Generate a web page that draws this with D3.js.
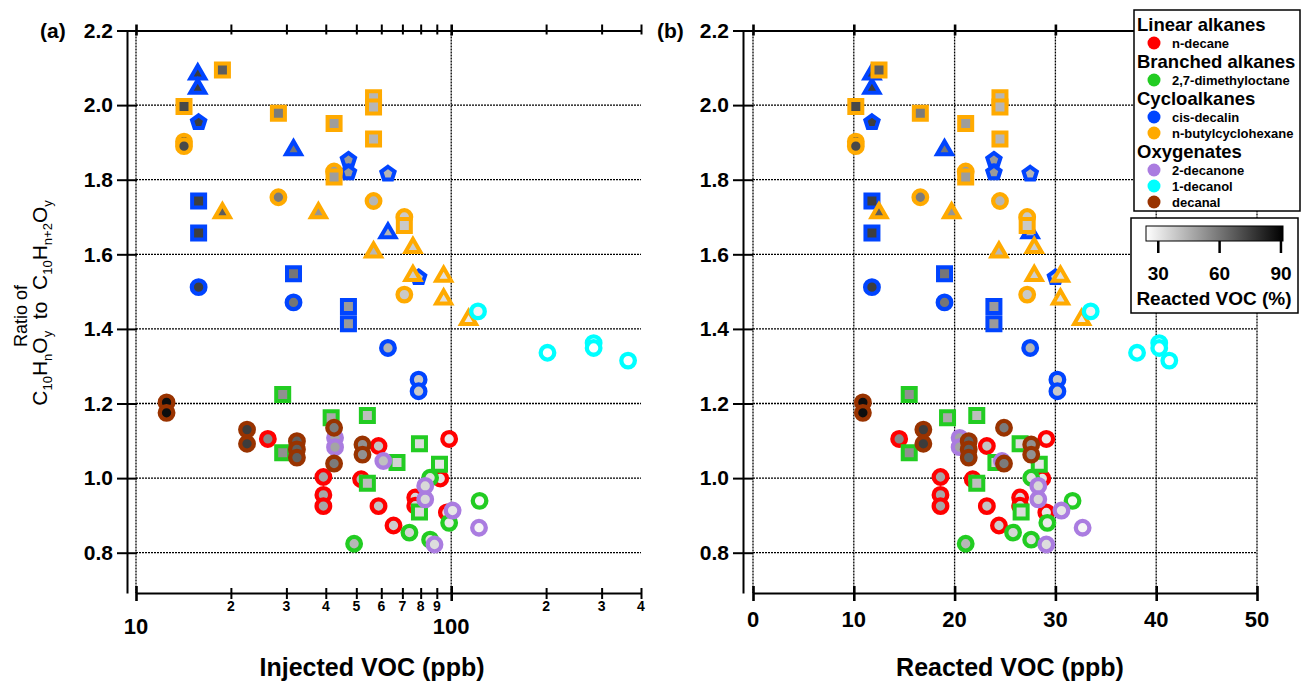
<!DOCTYPE html>
<html>
<head>
<meta charset="utf-8">
<script src="https://cdn.jsdelivr.net/npm/d3@7"></script>
<style>
  body { margin: 0; background: #fff; }
  text { font-family: 'Liberation Sans', Arial, sans-serif; }
</style>
</head>
<body>
<script>
// [injected ppb, reacted ppb, ratio]
var decaneCircles = [
  [26.2, 14.5, 1.105], [39.3, 18.6, 1.003], [39.3, 18.6, 0.955], [39.3, 18.6, 0.925],
  [51.8, 21.8, 0.997], [58.8, 23.2, 1.086], [58.8, 23.2, 0.925], [65.6, 24.4, 0.873],
  [76.9, 26.5, 0.948], [76.9, 26.5, 0.926], [92.3, 28.7, 0.999], [96.9, 29.1, 0.908],
  [98.5, 29.1, 1.105]
]
var dmoCircles = [
  [49.2, 21.1, 0.824], [73.7, 25.8, 0.854], [85.7, 27.6, 1.001], [85.7, 27.6, 0.835],
  [98.5, 29.2, 0.880], [123, 31.7, 0.939]
]
var dmoSquares = [
  [29.2, 15.5, 1.224], [29.2, 15.5, 1.068], [41.6, 19.3, 1.162], [54.2, 22.2, 1.168],
  [54.2, 22.2, 0.986], [67.3, 24.1, 1.042], [79.3, 26.5, 1.092], [79.3, 26.6, 0.909],
  [91.8, 28.4, 1.037]
]
var decalinCircles = [
  [15.8, 11.8, 1.512], [31.6, 19.0, 1.471], [63.0, 27.5, 1.349], [78.8, 30.2, 1.264],
  [78.8, 30.2, 1.233]
]
var decalinSquares = [
  [15.8, 11.8, 1.743], [15.8, 11.8, 1.657], [31.6, 19.0, 1.548], [47.2, 23.9, 1.460],
  [47.2, 23.9, 1.414]
]
var decalinTriangles = [
  [15.7, 11.8, 2.083], [15.7, 11.8, 2.045], [31.6, 19.0, 1.880], [63.0, 27.5, 1.657]
]
var decalinPentagons = [
  [15.8, 11.8, 1.954], [47.2, 23.9, 1.853], [47.2, 23.9, 1.819], [63.0, 27.5, 1.816],
  [78.8, 30.0, 1.538]
]
var bchCircles = [
  [14.2, 10.2, 1.902], [14.2, 10.2, 1.890], [42.5, 21.1, 1.822], [28.3, 16.6, 1.753],
  [56.7, 24.5, 1.743], [71.0, 27.2, 1.700], [71.0, 27.2, 1.492]
]
var bchSquares = [
  [18.8, 12.5, 2.094], [14.2, 10.2, 1.996], [28.3, 16.6, 1.978], [42.5, 21.1, 1.951],
  [56.7, 24.5, 2.020], [56.7, 24.5, 1.995], [56.7, 24.5, 1.909], [42.5, 21.1, 1.807],
  [71.0, 27.2, 1.677]
]
var bchTriangles = [
  [18.8, 12.5, 1.711], [37.9, 19.7, 1.711], [75.6, 27.9, 1.618], [56.7, 24.4, 1.606],
  [75.6, 27.9, 1.543], [94.6, 30.5, 1.541], [94.6, 30.5, 1.480], [113.5, 32.6, 1.425]
]
var decanoneCircles = [
  [42.8, 20.5, 1.108], [42.8, 20.5, 1.083], [60.9, 24.7, 1.046], [82.7, 28.3, 0.979],
  [82.7, 28.3, 0.943], [88.5, 29.1, 0.822], [101, 30.6, 0.913], [122.5, 32.7, 0.867]
]
var decanolCircles = [
  [121.6, 33.5, 1.447], [202, 38.1, 1.336], [283, 40.3, 1.362], [283, 40.3, 1.349],
  [364, 41.3, 1.315]
]
var decanalCircles = [
  [12.5, 10.9, 1.203], [12.5, 10.9, 1.175], [22.5, 16.9, 1.130], [22.5, 16.9, 1.092],
  [32.4, 21.4, 1.099], [32.4, 21.4, 1.077], [32.4, 21.4, 1.055], [42.5, 24.9, 1.135],
  [42.5, 24.9, 1.039], [52.3, 27.6, 1.090], [52.3, 27.6, 1.063]
]

var groups = ['Linear alkanes', 'Branched alkanes', 'Cycloalkanes', 'Oxygenates']
var compounds = ['n-decane', '2,7-dimethyloctane', 'cis-decalin', 'n-butylcyclohexane', '2-decanone', '1-decanol', 'decanal']
var compoundGroup = [0, 1, 2, 2, 3, 3, 3]
var colors = ['#ff0000', '#22cc22', '#0044ff', '#ffaa00', '#aa7ce0', '#00ffff', '#993300']

var yTicks = [0.8, 1.0, 1.2, 1.4, 1.6, 1.8, 2.0, 2.2]
var injTicks = [10, 20, 30, 40, 50, 60, 70, 80, 90, 100, 200, 300, 400]
var reactTicks = [0, 10, 20, 30, 40, 50]
var pctTicks = [30, 60, 90]

var series = [
  { data: decaneCircles, c: 0, shape: 'circle' },
  { data: dmoCircles, c: 1, shape: 'circle' },
  { data: dmoSquares, c: 1, shape: 'square' },
  { data: decalinCircles, c: 2, shape: 'circle' },
  { data: decalinSquares, c: 2, shape: 'square' },
  { data: decalinTriangles, c: 2, shape: 'triangle' },
  { data: decalinPentagons, c: 2, shape: 'pentagon' },
  { data: bchCircles, c: 3, shape: 'circle' },
  { data: bchSquares, c: 3, shape: 'square' },
  { data: bchTriangles, c: 3, shape: 'triangle' },
  { data: decanoneCircles, c: 4, shape: 'circle' },
  { data: decanolCircles, c: 5, shape: 'circle' },
  { data: decanalCircles, c: 6, shape: 'circle' }
]

var width = 1301
var height = 681
var font = "'Liberation Sans', Arial, sans-serif"

var svg = d3
  .select('body')
  .append('svg')
  .attr('width', width)
  .attr('height', height)

var y = d3.scaleLinear().domain([0.692, 2.2]).range([593, 30.5])
var xInj = d3.scaleLog().domain([10, 400]).range([136, 641])
var xReact = d3.scaleLinear().domain([0, 50]).range([753, 1257])
var shade = d3.scaleLinear().domain([24, 91]).range(['#ffffff', '#000000']).clamp(true)

// regular pentagon, point up
var symbolPentagon = {
  draw: function(ctx, size) {
    var r = Math.sqrt(size / 2.3776)
    for (var i = 0; i < 5; i++) {
      var a = -Math.PI / 2 + i * 2 * Math.PI / 5
      if (i === 0) ctx.moveTo(r * Math.cos(a), r * Math.sin(a))
      else ctx.lineTo(r * Math.cos(a), r * Math.sin(a))
    }
    ctx.closePath()
  }
}
var symbols = {
  circle: d3.symbol().type(d3.symbolCircle).size(145),
  square: d3.symbol().type(d3.symbolSquare).size(169),
  triangle: d3.symbol().type(d3.symbolTriangle).size(97),
  pentagon: d3.symbol().type(symbolPentagon).size(116)
}

function grid(x, xVals) {
  var g = svg.append('g')
    .attr('stroke', '#000')
    .attr('stroke-width', 1.3)
    .attr('stroke-dasharray', '2,1')
  g.selectAll('line.h')
    .data(yTicks.filter(v => v < 2.1))
    .join('line')
    .attr('x1', x.range()[0])
    .attr('x2', x.range()[1])
    .attr('y1', d => y(d))
    .attr('y2', d => y(d))
  g.selectAll('line.v')
    .data(xVals)
    .join('line')
    .attr('x1', d => x(d))
    .attr('x2', d => x(d))
    .attr('y1', y.range()[1])
    .attr('y2', y.range()[0])
}

function yAxis(xPos) {
  var g = svg.append('g')
    .attr('transform', 'translate(' + xPos + ',0)')
    .call(d3.axisLeft(y).tickValues(yTicks).tickSize(10).tickPadding(4).tickSizeOuter(0).tickFormat(d3.format('.1f')))
  g.attr('font-family', font)
  g.select('.domain').attr('stroke-width', 2)
  g.selectAll('.tick line').attr('x1', 10).attr('stroke-width', 2)
  g.selectAll('.tick text').attr('font-size', 21).attr('font-weight', 'bold').attr('fill', '#000')
}

function xAxes(x, vals, major) {
  var bottom = svg.append('g')
    .attr('transform', 'translate(0,593)')
    .call(d3.axisBottom(x).tickValues(vals).tickSize(7).tickSizeOuter(0).tickFormat(''))
  var top = svg.append('g')
    .attr('transform', 'translate(0,30.5)')
    .call(d3.axisTop(x).tickValues(vals).tickSize(6).tickSizeOuter(0).tickFormat(''))
  bottom.selectAll('.tick line').attr('y1', d => major(d) ? -7 : -5).attr('y2', d => major(d) ? 8 : 6)
  top.selectAll('.tick line').attr('y1', d => major(d) ? 5 : 4)
  ;[bottom, top].forEach(g => {
    g.select('.domain').attr('stroke-width', 2)
    g.selectAll('.tick line').attr('stroke-width', d => major(d) ? 2.6 : 2)
  })
  return bottom
}

function isDecade(d) {
  return d === 10 || d === 100
}

// panel (a)
grid(xInj, [10, 100])
yAxis(127)
xAxes(xInj, injTicks, isDecade)
svg.append('g')
  .selectAll('text')
  .data(injTicks)
  .join('text')
  .attr('x', d => xInj(d))
  .attr('y', d => isDecade(d) ? 634 : 611)
  .attr('text-anchor', 'middle')
  .attr('font-weight', 'bold')
  .attr('font-size', d => isDecade(d) ? 22 : 14)
  .text(d => isDecade(d) ? d : String(d).charAt(0))

// panel (b)
grid(xReact, reactTicks)
yAxis(743)
xAxes(xReact, reactTicks, () => true)
svg.append('g')
  .selectAll('text')
  .data(reactTicks)
  .join('text')
  .attr('x', d => xReact(d))
  .attr('y', 627)
  .attr('text-anchor', 'middle')
  .attr('font-weight', 'bold')
  .attr('font-size', 22)
  .text(d => d)

// markers
series.forEach(s => {
  ;[[xInj, 0], [xReact, 1]].forEach(([x, k]) => {
    svg.append('g')
      .selectAll('path')
      .data(s.data)
      .join('path')
      .attr('d', symbols[s.shape])
      .attr('transform', d => 'translate(' + x(d[k]) + ',' + y(d[2]) + ')')
      .attr('fill', d => shade(100 * d[1] / d[0]))
      .attr('stroke', colors[s.c])
      .attr('stroke-width', s.shape === 'circle' ? 4.3 : 4)
  })
})

// labels and titles
svg.append('text').attr('x', 40).attr('y', 38).attr('font-size', 21).attr('font-weight', 'bold').text('(a)')
svg.append('text').attr('x', 657).attr('y', 38).attr('font-size', 21).attr('font-weight', 'bold').text('(b)')

svg.append('text')
  .attr('x', 372).attr('y', 676)
  .attr('text-anchor', 'middle').attr('font-size', 25).attr('font-weight', 'bold')
  .text('Injected VOC (ppb)')
svg.append('text')
  .attr('x', 1010).attr('y', 676)
  .attr('text-anchor', 'middle').attr('font-size', 25).attr('font-weight', 'bold')
  .text('Reacted VOC (ppb)')

svg.append('text')
  .attr('transform', 'translate(27,316) rotate(-90)')
  .attr('text-anchor', 'middle').attr('font-size', 18)
  .text('Ratio of')

var formula = svg.append('text')
  .attr('transform', 'translate(47,303) rotate(-90)')
  .attr('text-anchor', 'middle').attr('font-size', 21)
  .style('white-space', 'pre')
var parts = [['C', 0], ['10', 1], ['H', 0], ['n', 1], ['O', 0], ['y', 1], ['  to  ', 0],
  ['C', 0], ['10', 1], ['H', 0], ['n+2', 1], ['O', 0], ['y', 1]]
var prevSub = 0
parts.forEach(p => {
  formula.append('tspan')
    .attr('font-size', p[1] ? 13 : 21)
    .attr('dy', p[1] - prevSub ? (p[1] ? 5 : -5) : 0)
    .text(p[0])
  prevSub = p[1]
})

// legend
var legend = svg.append('g')
legend.append('rect')
  .attr('x', 1134).attr('y', 10).attr('width', 166).attr('height', 201)
  .attr('fill', '#fff').attr('stroke', '#000').attr('stroke-width', 1.5)
var rows = []
groups.forEach((g, gi) => {
  rows.push({ header: true, label: g })
  compounds.forEach((c, ci) => {
    if (compoundGroup[ci] === gi) rows.push({ header: false, label: c, color: colors[ci] })
  })
})
var ly = 25
rows.forEach((r, i) => {
  if (i > 0) ly += r.header ? 19 : (rows[i - 1].header ? 18 : 16)
  if (r.header) {
    legend.append('text')
      .attr('x', 1137).attr('y', ly).attr('dy', '0.35em')
      .attr('font-size', 18.5).attr('font-weight', 'bold')
      .text(r.label)
  } else {
    legend.append('circle').attr('cx', 1154).attr('cy', ly).attr('r', 6.5).attr('fill', r.color)
    legend.append('text')
      .attr('x', 1172).attr('y', ly).attr('dy', '0.35em')
      .attr('font-size', 13).attr('font-weight', 'bold')
      .text(r.label)
  }
})

// colour bar for reacted fraction
var cb = d3.scaleLinear().domain(shade.domain()).range([1146, 1283])
var grad = svg.append('defs').append('linearGradient').attr('id', 'grey')
grad.append('stop').attr('offset', '0%').attr('stop-color', shade.range()[0])
grad.append('stop').attr('offset', '100%').attr('stop-color', shade.range()[1])
var bar = svg.append('g')
bar.append('rect')
  .attr('x', 1131).attr('y', 218).attr('width', 167).attr('height', 95)
  .attr('fill', '#fff').attr('stroke', '#000').attr('stroke-width', 1.5)
bar.append('rect')
  .attr('x', cb.range()[0]).attr('y', 226).attr('width', cb.range()[1] - cb.range()[0]).attr('height', 15)
  .attr('fill', 'url(#grey)').attr('stroke', '#000').attr('stroke-width', 1)
bar.selectAll('line')
  .data(pctTicks)
  .join('line')
  .attr('x1', d => cb(d)).attr('x2', d => cb(d))
  .attr('y1', 241).attr('y2', 253)
  .attr('stroke', '#000').attr('stroke-width', 2.5)
bar.selectAll('text.t')
  .data(pctTicks)
  .join('text')
  .attr('x', d => cb(d)).attr('y', 280)
  .attr('text-anchor', 'middle').attr('font-size', 19).attr('font-weight', 'bold')
  .text(d => d)
bar.append('text')
  .attr('x', 1214).attr('y', 305)
  .attr('text-anchor', 'middle').attr('font-size', 19).attr('font-weight', 'bold')
  .text('Reacted VOC (%)')
</script>
</body>
</html>
